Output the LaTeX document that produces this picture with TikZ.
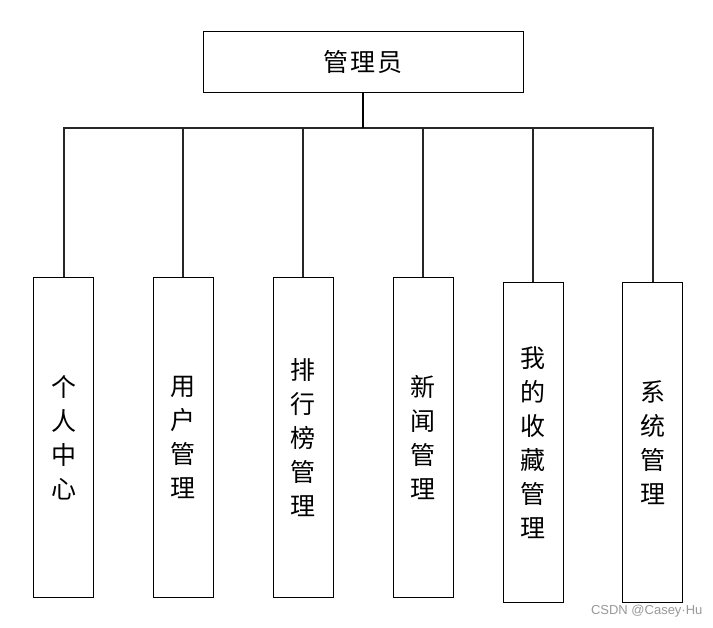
\documentclass[tikz,border=0pt]{standalone}
\usepackage{fontspec}
\newfontfamily\cjk{Noto Sans CJK SC}
\newfontfamily\wm{Liberation Sans}
\begin{document}
\begin{tikzpicture}[x=1pt,y=-1pt,
  box/.style={draw=black,line width=1pt,inner sep=0pt,fill=white},
  topbox/.style={box,minimum width=320pt,minimum height=61pt,font=\cjk\fontsize{25}{30}\selectfont},
  leaf/.style={box,minimum width=60pt,minimum height=320pt,anchor=north,align=center,font=\cjk\fontsize{25}{34}\selectfont},
  conn/.style={draw=black!85,line width=2pt},
  trunk/.style={draw=black,line width=2.6pt}]
\useasboundingbox (0,0) rectangle (713,628);
\fill[white] (0,0) rectangle (713,628);
\node[topbox] (root) at (363,62.5) {管\hspace{2pt}理\hspace{2pt}员};
\coordinate (hub) at (363,128);
\node[leaf] (c1) at (63.5,277) {个\\人\\中\\心};
\node[leaf] (c2) at (183,277) {用\\户\\管\\理};
\node[leaf] (c3) at (303,277) {排\\行\\榜\\管\\理};
\node[leaf] (c4) at (423,277) {新\\闻\\管\\理};
\node[leaf] (c5) at (533,282) {我\\的\\收\\藏\\管\\理};
\node[leaf] (c6) at (652.5,282) {系\\统\\管\\理};
\foreach \c in {c1,c2,c3,c4,c5,c6}{
  \draw[conn] (hub) -| (\c.north);
}
\draw[trunk] (root.south) -- (hub);
\node[text=black!40,font=\wm\fontsize{13}{15}\selectfont,anchor=east] (wmk) at (706,611) {CSDN @Casey·Hu};
\end{tikzpicture}
\end{document}
